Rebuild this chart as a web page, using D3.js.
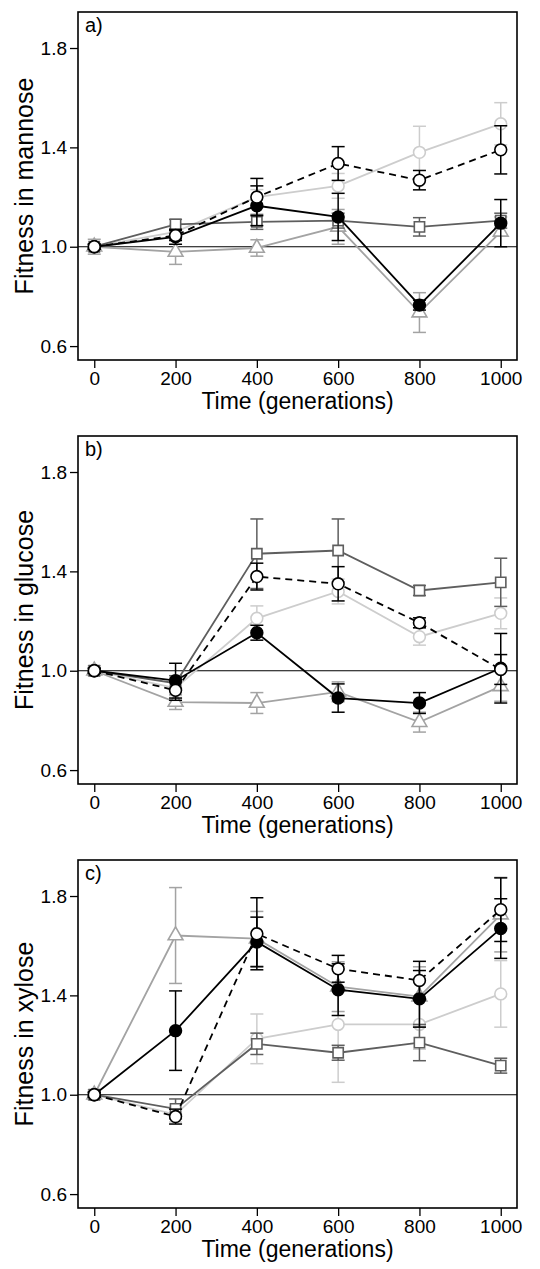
<!DOCTYPE html>
<html>
<head>
<meta charset="utf-8">
<script src="https://cdn.jsdelivr.net/npm/d3@7"></script>
<style>
  body { margin: 0; background: #fff; }
  svg { display: block; font-family: "Liberation Sans", Arial, sans-serif; }
</style>
</head>
<body>
<svg id="chart" width="540" height="1269"></svg>
<script>
var generations = [0, 200, 400, 600, 800, 1000]
var xTicks = [0, 200, 400, 600, 800, 1000]
var yTicks = [0.6, 1.0, 1.4, 1.8]
var panelLabels = ["a)", "b)", "c)"]
var yTitles = ["Fitness in mannose", "Fitness in glucose", "Fitness in xylose"]

// a) mannose
var mannoseFilled = [1.00, 1.04, 1.165, 1.12, 0.765, 1.095]
var mannoseFilledErr = [0.01, 0.03, 0.08, 0.095, 0.02, 0.095]
var mannoseDashed = [1.00, 1.045, 1.20, 1.335, 1.268, 1.39]
var mannoseDashedErr = [0.01, 0.02, 0.075, 0.068, 0.039, 0.097]
var mannoseSquare = [1.00, 1.09, 1.10, 1.105, 1.08, 1.105]
var mannoseSquareErr = [0.01, 0.02, 0.03, 0.03, 0.037, 0.03]
var mannoseTriangle = [1.00, 0.979, 0.995, 1.08, 0.735, 1.06]
var mannoseTriangleErr = [0.03, 0.05, 0.033, 0.07, 0.08, 0.06]
var mannoseLight = [1.00, 1.06, 1.20, 1.245, 1.38, 1.495]
var mannoseLightErr = [0.01, 0.03, 0.03, 0.05, 0.105, 0.085]

// b) glucose
var glucoseFilled = [1.00, 0.96, 1.153, 0.89, 0.87, 1.01]
var glucoseFilledErr = [0.01, 0.07, 0.03, 0.057, 0.042, 0.14]
var glucoseDashed = [1.00, 0.921, 1.379, 1.35, 1.193, 1.005]
var glucoseDashedErr = [0.01, 0.04, 0.054, 0.069, 0.02, 0.06]
var glucoseSquare = [1.00, 0.95, 1.471, 1.484, 1.323, 1.356]
var glucoseSquareErr = [0.01, 0.03, 0.14, 0.127, 0.02, 0.097]
var glucoseTriangle = [1.00, 0.874, 0.87, 0.915, 0.793, 0.937]
var glucoseTriangleErr = [0.02, 0.03, 0.042, 0.04, 0.04, 0.06]
var glucoseLight = [1.00, 0.93, 1.211, 1.319, 1.137, 1.231]
var glucoseLightErr = [0.01, 0.03, 0.05, 0.05, 0.034, 0.062]

// c) xylose
var xyloseFilled = [1.00, 1.258, 1.615, 1.423, 1.386, 1.669]
var xyloseFilledErr = [0.01, 0.16, 0.10, 0.104, 0.114, 0.12]
var xyloseDashed = [1.00, 0.912, 1.648, 1.507, 1.46, 1.745]
var xyloseDashedErr = [0.01, 0.03, 0.145, 0.054, 0.077, 0.128]
var xyloseSquare = [1.00, 0.943, 1.205, 1.169, 1.21, 1.117]
var xyloseSquareErr = [0.01, 0.04, 0.043, 0.03, 0.073, 0.03]
var xyloseTriangle = [1.00, 1.641, 1.628, 1.435, 1.395, 1.725]
var xyloseTriangleErr = [0.02, 0.193, 0.11, 0.10, 0.12, 0.15]
var xyloseLight = [1.00, 0.92, 1.225, 1.283, 1.283, 1.406]
var xyloseLightErr = [0.01, 0.03, 0.10, 0.233, 0.10, 0.134]

// series styles, drawn back to front
var styles = {
  light:    { color: "#cdcdcd", symbol: d3.symbolCircle, size: 110, fill: "#fff", dash: null },
  triangle: { color: "#a3a3a3", symbol: d3.symbolTriangle, size: 95, fill: "#fff", dash: null },
  square:   { color: "#5e5e5e", symbol: d3.symbolSquare, size: 105, fill: "#fff", dash: null },
  filled:   { color: "#000", symbol: d3.symbolCircle, size: 110, fill: "#000", dash: null },
  dashed:   { color: "#000", symbol: d3.symbolCircle, size: 110, fill: "#fff", dash: "7,5" }
}

var panels = [
  { light: [mannoseLight, mannoseLightErr], triangle: [mannoseTriangle, mannoseTriangleErr],
    square: [mannoseSquare, mannoseSquareErr], filled: [mannoseFilled, mannoseFilledErr],
    dashed: [mannoseDashed, mannoseDashedErr] },
  { light: [glucoseLight, glucoseLightErr], triangle: [glucoseTriangle, glucoseTriangleErr],
    square: [glucoseSquare, glucoseSquareErr], filled: [glucoseFilled, glucoseFilledErr],
    dashed: [glucoseDashed, glucoseDashedErr] },
  { light: [xyloseLight, xyloseLightErr], triangle: [xyloseTriangle, xyloseTriangleErr],
    square: [xyloseSquare, xyloseSquareErr], filled: [xyloseFilled, xyloseFilledErr],
    dashed: [xyloseDashed, xyloseDashedErr] }
]

var svg = d3.select("#chart")
var panelStep = 424
var box = { left: 78, right: 517, top: 12, bottom: 360 }

var x = d3.scaleLinear()
  .domain([-40, 1040])
  .range([box.left, box.right])
var y = d3.scaleLinear()
  .domain([0.544, 1.945])
  .range([box.bottom, box.top])

var line = d3.line()
  .x(function(d) { return x(d.g) })
  .y(function(d) { return y(d.v) })

panels.forEach(function(panel, i) {
  var g = svg.append("g")
    .attr("transform", "translate(0," + (i * panelStep) + ")")

  // axes
  var xAxis = g.append("g")
    .attr("transform", "translate(0," + box.bottom + ")")
    .call(d3.axisBottom(x).tickValues(xTicks).tickSize(8).tickPadding(4).tickFormat(d3.format("d")))
  var yAxis = g.append("g")
    .attr("transform", "translate(" + box.left + ",0)")
    .call(d3.axisLeft(y).tickValues(yTicks).tickSize(8).tickPadding(3).tickFormat(d3.format(".1f")))
  ;[xAxis, yAxis].forEach(function(a) {
    a.select(".domain").remove()
    a.selectAll(".tick line").attr("stroke", "#000").attr("stroke-width", 1.3)
    a.selectAll(".tick text").attr("fill", "#000").attr("font-size", "19px")
      .attr("font-family", "Liberation Sans, Arial, sans-serif")
  })

  // reference line at 1.0
  g.append("line")
    .attr("x1", box.left).attr("x2", box.right)
    .attr("y1", y(1)).attr("y2", y(1))
    .attr("stroke", "#000").attr("stroke-width", 1.2)

  Object.keys(styles).forEach(function(key) {
    var st = styles[key]
    var means = panel[key][0], errs = panel[key][1]
    var pts = generations.map(function(gen, j) {
      return { g: gen, v: means[j], e: errs[j] }
    })
    var s = g.append("g")

    s.append("path")
      .datum(pts)
      .attr("d", line)
      .attr("fill", "none")
      .attr("stroke", st.color)
      .attr("stroke-width", 1.8)
      .attr("stroke-dasharray", st.dash)

    var eb = s.selectAll(".err").data(pts).enter().append("g")
      .attr("stroke", st.color).attr("stroke-width", 1.5)
    eb.append("line")
      .attr("x1", function(d) { return x(d.g) }).attr("x2", function(d) { return x(d.g) })
      .attr("y1", function(d) { return y(d.v - d.e) }).attr("y2", function(d) { return y(d.v + d.e) })
    eb.append("line")
      .attr("x1", function(d) { return x(d.g) - 6.5 }).attr("x2", function(d) { return x(d.g) + 6.5 })
      .attr("y1", function(d) { return y(d.v + d.e) }).attr("y2", function(d) { return y(d.v + d.e) })
    eb.append("line")
      .attr("x1", function(d) { return x(d.g) - 6.5 }).attr("x2", function(d) { return x(d.g) + 6.5 })
      .attr("y1", function(d) { return y(d.v - d.e) }).attr("y2", function(d) { return y(d.v - d.e) })

    s.selectAll(".pt").data(pts).enter().append("path")
      .attr("transform", function(d) { return "translate(" + x(d.g) + "," + y(d.v) + ")" })
      .attr("d", d3.symbol().type(st.symbol).size(st.size))
      .attr("fill", st.fill)
      .attr("stroke", st.color)
      .attr("stroke-width", 1.6)
  })

  // frame
  g.append("rect")
    .attr("x", box.left).attr("y", box.top)
    .attr("width", box.right - box.left).attr("height", box.bottom - box.top)
    .attr("fill", "none").attr("stroke", "#000").attr("stroke-width", 1.6)

  g.append("text")
    .attr("x", box.left + 7).attr("y", box.top + 20)
    .attr("font-size", "20px")
    .text(panelLabels[i])

  g.append("text")
    .attr("text-anchor", "middle")
    .attr("x", (x(0) + x(1000)) / 2).attr("y", 409)
    .attr("font-size", "23px")
    .text("Time (generations)")

  g.append("text")
    .attr("text-anchor", "middle")
    .attr("transform", "translate(33," + ((box.top + box.bottom) / 2) + ") rotate(-90)")
    .attr("font-size", "25px")
    .text(yTitles[i])
})
</script>
</body>
</html>
